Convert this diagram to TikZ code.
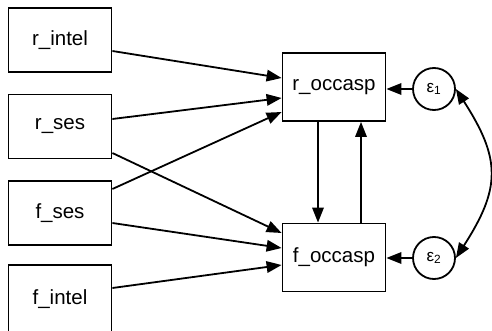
\documentclass[tikz,border=0pt]{standalone}
\usepackage{fontspec}
\setmainfont{Liberation Sans}
\usetikzlibrary{arrows.meta,calc}

\tikzset{
  obs/.style={draw, line width=1.8pt, rectangle, minimum width=103pt,
    minimum height=64pt, inner sep=0pt, font=\fontsize{20.5}{24}\selectfont},
  err/.style={draw, line width=1.8pt, circle, minimum size=42pt, inner sep=0pt,
    font=\fontsize{17}{20}\selectfont},
  tip/.style={Triangle[length=15pt,width=11.5pt]},
  path/.style={line width=1.8pt, -{Triangle[length=15pt,width=11.5pt]}},
  cov/.style={line width=1.8pt, {Triangle[length=15pt,width=11.5pt]}-{Triangle[length=15pt,width=11.5pt]}},
}

\begin{document}
\begin{tikzpicture}[x=1pt, y=-1pt]
  \useasboundingbox (0,0) rectangle (492,331);

  % exogenous observed variables
  \node[obs] (rintel) at (60,40)    {r\_intel};
  \node[obs] (rses)   at (60,126.5) {r\_ses};
  \node[obs] (fses)   at (60,213)   {f\_ses};
  \node[obs, minimum height=68pt] (fintel) at (60,299) {f\_intel};

  % endogenous variables
  \node[obs, minimum height=68pt] (rocc) at (334,87)    {r\_occasp};
  \node[obs, minimum height=68pt] (focc) at (334,257.5) {f\_occasp};

  % error terms
  \node[err] (e1) at (434,89)  {ε\textsubscript{1}};
  \node[err] (e2) at (434,258) {ε\textsubscript{2}};

  % structural paths into r_occasp
  \draw[path] ($(rintel.east)+(0,11)$)  -- ($(rocc.west)+(0,-9)$);
  \draw[path] ($(rses.east)+(0,-7.5)$)  -- ($(rocc.west)+(0,11)$);
  \draw[path] ($(fses.east)+(0,-24)$)   -- ($(rocc.west)+(0,25)$);

  % structural paths into f_occasp
  \draw[path] ($(rses.east)+(0,26.5)$)  -- ($(focc.west)+(0,-24.5)$);
  \draw[path] ($(fses.east)+(0,10)$)    -- ($(focc.west)+(0,-9.5)$);
  \draw[path] ($(fintel.east)+(0,-11)$) -- ($(focc.west)+(0,7.5)$);

  % reciprocal paths
  \draw[path] ($(rocc.south)+(-16,0)$) -- ($(focc.north)+(-16,0)$);
  \draw[path] ($(focc.north)+(27,0)$)  -- ($(rocc.south)+(27,0)$);

  % errors
  \draw[path] (e1.west) -- (e1.west -| rocc.east);
  \draw[path] (e2.west) -- (e2.west -| focc.east);

  % error covariance
  \draw[cov] (e1.east) .. controls (501,159) and (501,188) .. (e2.east);
\end{tikzpicture}
\end{document}
